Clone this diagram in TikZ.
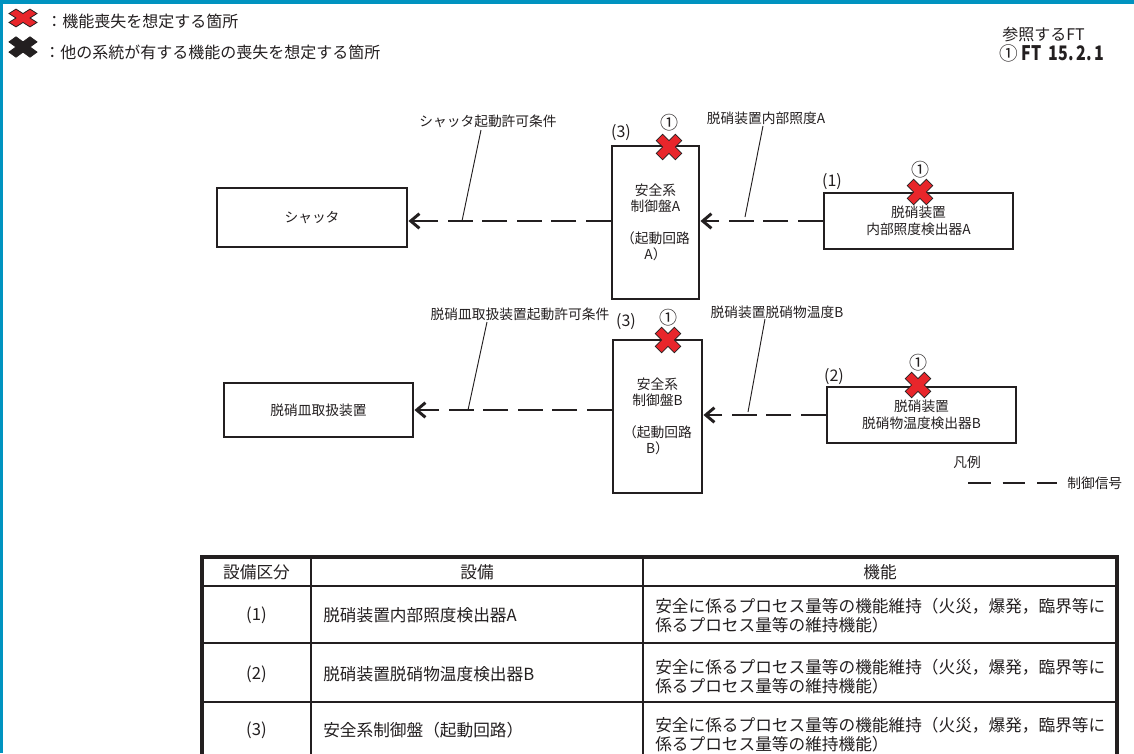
\documentclass[tikz,border=0pt]{standalone}
\usepackage{fontspec}
\setmainfont{Noto Sans CJK JP}
\usetikzlibrary{arrows.meta}
\definecolor{frameblue}{HTML}{0093C0}
\definecolor{xred}{HTML}{E8262B}
\definecolor{ink}{HTML}{231F20}
\tikzset{
  x=0.75pt, y=-0.75pt,
  nbox/.style={draw=ink, line width=2.2pt, fill=white, inner sep=0pt, align=center,
    font=\fontsize{10.3}{12.5}\selectfont, text=ink},
  lbl/.style={inner sep=0pt, font=\fontsize{10.3}{12.5}\selectfont, text=ink},
  numlbl/.style={inner sep=0pt, font=\fontsize{12}{14}\selectfont, text=ink},
  circlbl/.style={inner sep=0pt, font=\fontsize{13.5}{15}\selectfont, text=ink},
  toptxt/.style={inner sep=0pt, font=\fontsize{12}{14}\selectfont, text=ink, anchor=west},
  tab/.style={inner sep=0pt, font=\fontsize{12.5}{14.25}\selectfont, text=ink},
  sig/.style={draw=ink, line width=2.2pt, dash pattern=on 18.75pt off 7.1pt,
    -{Straight Barb[length=6.5pt,width=11pt]}},
  sigleg/.style={draw=ink, line width=2.2pt, dash pattern=on 17pt off 9pt},
  lead/.style={draw=ink, line width=0.7pt},
  tabouter/.style={draw=ink, line width=2.4pt},
  tabinner/.style={draw=ink, line width=1.4pt},
  pics/xmark/.style={code={
    \path[rotate=45, fill=#1, draw=ink, line width=0.6pt, line join=miter]
      (4.5,4.5) -- (4.5,13.5) -- (-4.5,13.5) -- (-4.5,4.5) -- (-13.5,4.5) -- (-13.5,-4.5)
      -- (-4.5,-4.5) -- (-4.5,-13.5) -- (4.5,-13.5) -- (4.5,-4.5) -- (13.5,-4.5) -- (13.5,4.5) -- cycle;
  }}
}
\begin{document}
\begin{tikzpicture}
\useasboundingbox (0,0) rectangle (1134,753);
\clip (0,0) rectangle (1134,753);
\fill[white] (0,0) rectangle (1134,753);
\fill[frameblue] (0,0) rectangle (1134,4);
\fill[frameblue] (0,0) rectangle (3,753);

% legend top-left
\pic[xscale=1.1, yscale=0.7] at (23,18) {xmark=xred};
\pic[xscale=1.1, yscale=0.8] at (23,47) {xmark=ink};
\node[toptxt] (leg1) at (46,21) {：機能喪失を想定する箇所};
\node[toptxt] (leg2) at (44,52) {：他の系統が有する機能の喪失を想定する箇所};

% reference FT
\node[toptxt] (ref1) at (1002,34) {参照するFT};
\node[toptxt] (ref2) at (999,53) {{\fontsize{14}{15}\selectfont ①}\ \scalebox{0.8}[1]{\fontsize{15}{16}\selectfont\bfseries FT\ \ 15.\,2.\,1}};

% boxes
\node[nbox, minimum width=142.5pt, minimum height=44.25pt] (shut) at (312,217.5) {シャッタ};
\node[nbox, minimum width=65.25pt, minimum height=114.75pt] (pa) at (655.5,222.5)
  {安全系\\制御盤A\\[11pt]（起動回路\\A）};
\node[nbox, minimum width=141.75pt, minimum height=42pt] (sa) at (918.5,221)
  {脱硝装置\\内部照度検出器A};
\node[nbox, minimum width=141.75pt, minimum height=40.5pt] (hd) at (318.5,410) {脱硝皿取扱装置};
\node[nbox, minimum width=66.75pt, minimum height=114.75pt] (pb) at (657.5,416.5)
  {安全系\\制御盤B\\[11pt]（起動回路\\B）};
\node[nbox, minimum width=141.75pt, minimum height=42pt] (sb) at (921.5,415)
  {脱硝装置\\脱硝物温度検出器B};

% signals
\draw[sig] (pa.west |- 0,221) -- (shut.east |- 0,221);
\draw[sig] (sa.west) -- (sa.west -| pa.east);
\draw[sig] (pb.west |- 0,410) -- (hd.east |- 0,410);
\draw[sig] (sb.west) -- (sb.west -| pb.east);

% signal labels and leaders
\node[lbl] (ls1) at (488,121) {シャッタ起動許可条件};
\node[lbl] (ls2) at (766,118) {脱硝装置内部照度A};
\node[lbl] (ls3) at (520,314) {脱硝皿取扱装置起動許可条件};
\node[lbl] (ls4) at (777,312) {脱硝装置脱硝物温度B};
\coordinate (c1a) at (481,130); \coordinate (c1b) at (462,221);
\coordinate (c2a) at (763,126); \coordinate (c2b) at (745,217);
\coordinate (c3a) at (487,322); \coordinate (c3b) at (468,410);
\coordinate (c4a) at (765,319); \coordinate (c4b) at (748,412);
\draw[lead] (c1a) -- (c1b);
\draw[lead] (c2a) -- (c2b);
\draw[lead] (c3a) -- (c3b);
\draw[lead] (c4a) -- (c4b);

% category labels
\node[numlbl] (n3a) at (621,133) {(3)};
\node[numlbl] (n1) at (832,182) {(1)};
\node[numlbl] (n3b) at (626,322) {(3)};
\node[numlbl] (n2) at (834,377) {(2)};

% failure marks
\pic at (669,147) {xmark=xred};
\pic at (920,192) {xmark=xred};
\pic at (668,340) {xmark=xred};
\pic at (918,385) {xmark=xred};
\node[circlbl] (o1) at (669,123) {①};
\node[circlbl] (o2) at (920,170) {①};
\node[circlbl] (o3) at (668,318) {①};
\node[circlbl] (o4) at (918,363) {①};

% legend
\node[lbl] (hanrei) at (967,462) {凡例};
\coordinate (lg1) at (968,483); \coordinate (lg2) at (1057,483);
\draw[sigleg] (lg1) -- (lg2);
\node[lbl, anchor=west] (lgt) at (1067,483) {制御信号};

% table
\draw[tabinner] (202,586) -- (1117,586);
\draw[tabinner] (202,643) -- (1117,643);
\draw[tabinner] (202,702) -- (1117,702);
\draw[tabinner] (311,557) -- (311,758);
\draw[tabinner] (643,557) -- (643,758);
\draw[tabouter] (202,758) -- (202,557) -- (1117,557) -- (1117,758);
\node[tab] (h1) at (256.5,572) {設備区分};
\node[tab] (h2) at (477,572) {設備};
\node[tab] (h3) at (880,572) {機能};
\node[tab] (r1a) at (256.5,615) {(1)};
\node[tab, anchor=west] (r1b) at (323,615) {脱硝装置内部照度検出器A};
\node[tab, anchor=west, align=left] (r1c) at (655,616)
  {安全に係るプロセス量等の機能維持（火災，爆発，臨界等に\\係るプロセス量等の維持機能）};
\node[tab] (r2a) at (256.5,674) {(2)};
\node[tab, anchor=west] (r2b) at (323,674) {脱硝装置脱硝物温度検出器B};
\node[tab, anchor=west, align=left] (r2c) at (655,677)
  {安全に係るプロセス量等の機能維持（火災，爆発，臨界等に\\係るプロセス量等の維持機能）};
\node[tab] (r3a) at (256.5,730) {(3)};
\node[tab, anchor=west] (r3b) at (323,730) {安全系制御盤（起動回路）};
\node[tab, anchor=west, align=left] (r3c) at (655,735)
  {安全に係るプロセス量等の機能維持（火災，爆発，臨界等に\\係るプロセス量等の維持機能）};
\end{tikzpicture}
\end{document}
